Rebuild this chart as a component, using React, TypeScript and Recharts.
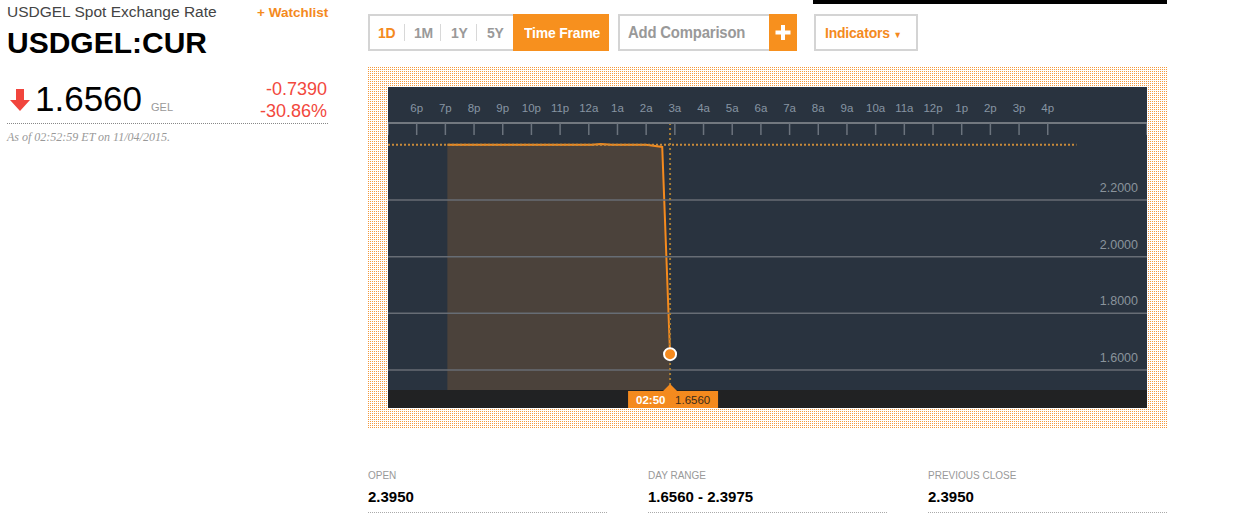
import React from 'react';
import {
  ComposedChart, Area, XAxis, YAxis, ReferenceLine, ReferenceDot,
} from 'recharts';

// hours since 5p (previous day)
const times = [2.07, 3, 4, 5, 6, 7, 7.1, 7.42, 7.8, 8, 9, 9.56, 9.833];
const rates = [2.395, 2.395, 2.395, 2.395, 2.395, 2.395, 2.395, 2.3978, 2.395, 2.395, 2.395, 2.3875, 1.656];
const hourLabels = ['', '6p', '7p', '8p', '9p', '10p', '11p', '12a', '1a', '2a', '3a', '4a', '5a', '6a', '7a', '8a', '9a', '10a', '11a', '12p', '1p', '2p', '3p', '4p'];
const xEnd = 26.46;
const yTicks = [1.6, 1.8, 2.0, 2.2];
const yDomain = [1.5294, 2.4718];
const prevClose = 2.395;
const prevCloseEnd = 24;
const lastTime = 9.833;
const lastRate = 1.656;
const lastLabel = '02:50';

const data = times.map((t, i) => ({ t, v: rates[i] }));
const xTicks = [...hourLabels.map((_, i) => i), xEnd];

const ORANGE = '#f48a1e';
const W = 759;
const H = 321;

const XTick = (props: any) => {
  const { x, payload } = props;
  const label = hourLabels[payload.value] || '';
  return (
    <g>
      <line x1={x} x2={x} y1={36} y2={48} stroke="#6b737d" strokeWidth={1.5} />
      <text x={x} y={25} textAnchor="middle" fill="#8795a3" fontSize={11.5} fontFamily="Liberation Sans, Arial, sans-serif">{label}</text>
    </g>
  );
};

const makeYLabel = (v: number) => (props: any) => {
  const vb = props.viewBox || {};
  return (
    <text x={vb.x + vb.width - 9} y={vb.y - 8} textAnchor="end" fill="#8a939c" fontSize={12.5} fontFamily="Liberation Sans, Arial, sans-serif">
      {v.toFixed(4)}
    </text>
  );
};

const CrossLabel = (props: any) => {
  const vb = props.viewBox || {};
  const x = vb.x;
  const bottom = vb.y + vb.height;
  return (
    <g>
      <polygon points={`${x - 7},${bottom + 1} ${x},${bottom - 6} ${x + 7},${bottom + 1}`} fill={ORANGE} />
      <rect x={x - 42} y={bottom + 1} width={90} height={17} fill={ORANGE} />
      <text x={x - 34} y={bottom + 14} fill="#fff" fontSize={11.5} fontWeight="bold" fontFamily="Liberation Sans, Arial, sans-serif">{lastLabel}</text>
      <text x={x + 5} y={bottom + 14} fill="#3a2a1a" fontSize={11.5} fontFamily="Liberation Sans, Arial, sans-serif">{lastRate.toFixed(4)}</text>
    </g>
  );
};

const abs = (l: number, t: number, extra: React.CSSProperties = {}): React.CSSProperties => ({
  position: 'absolute', left: l, top: t, whiteSpace: 'nowrap', ...extra,
});

const btnFont = "'Liberation Sans', Arial, sans-serif";
const btn = (color: string, size = 15): React.CSSProperties => ({
  fontFamily: btnFont, fontWeight: 'bold', fontSize: size, lineHeight: '17px', color,
  transform: 'scaleX(0.93)', transformOrigin: 'left center', letterSpacing: -0.2,
});

export default function App() {
  return (
    <div style={{ position: 'absolute', left: 0, top: 0, width: 1233, height: 515, background: '#fff', fontFamily: 'Liberation Sans, Arial, sans-serif', overflow: 'hidden' }}>
      {/* Left panel */}
      <div style={abs(7, 4, { fontSize: 15.5, lineHeight: '15px', color: '#444' })}>USDGEL Spot Exchange Rate</div>
      <div style={abs(257, 6, { fontSize: 13.5, lineHeight: '14px', color: ORANGE, fontWeight: 'bold' })}>+ Watchlist</div>
      <div style={abs(7, 28, { fontSize: 30, lineHeight: '30px', color: '#000', fontWeight: 'bold' })}>USDGEL:CUR</div>
      <svg style={abs(9, 89)} width={22} height={23}>
        <polygon points="7,0 15,0 15,11 21,11 11,22 1,11 7,11" fill="#f1453d" />
      </svg>
      <div style={abs(35, 81, { fontSize: 35, lineHeight: '35px', color: '#000' })}>1.6560</div>
      <div style={abs(151, 102, { fontSize: 11, lineHeight: '11px', color: '#999' })}>GEL</div>
      <div style={abs(200, 80, { width: 127, textAlign: 'right', fontSize: 18, lineHeight: '18px', color: '#f2483d' })}>-0.7390</div>
      <div style={abs(200, 102, { width: 127, textAlign: 'right', fontSize: 18, lineHeight: '18px', color: '#f2483d' })}>-30.86%</div>
      <div style={abs(7, 123, { width: 321, borderTop: '1px dotted #888' })} />
      <div style={abs(7, 131, { fontSize: 12, lineHeight: '12px', color: '#999', fontStyle: 'italic', fontFamily: "'Liberation Serif', 'DejaVu Serif', serif" })}>As of 02:52:59 ET on 11/04/2015.</div>

      {/* Top bar */}
      <div style={abs(813, 0, { width: 354, height: 4, background: '#000' })} />

      {/* Buttons */}
      <div style={abs(368, 14, { width: 237, height: 33, border: '2px solid #d4d4d4' })}>
        <div style={abs(8, 8, btn(ORANGE))}>1D</div>
        <div style={abs(34, 8, { width: 1, height: 17, background: '#d8d8d8' })} />
        <div style={abs(44, 8, btn('#9a9a9a'))}>1M</div>
        <div style={abs(70, 8, { width: 1, height: 17, background: '#d8d8d8' })} />
        <div style={abs(81, 8, btn('#9a9a9a'))}>1Y</div>
        <div style={abs(106, 8, { width: 1, height: 17, background: '#d8d8d8' })} />
        <div style={abs(117, 8, btn('#9a9a9a'))}>5Y</div>
        <div style={abs(143, -2, { width: 96, height: 37, background: '#f7901e' })}>
          <div style={{ position: 'absolute', left: 11, top: 10, ...btn('#fff') }}>Time Frame</div>
        </div>
      </div>
      <div style={abs(618, 14, { width: 151, height: 33, border: '2px solid #d4d4d4', borderRight: 'none' })}>
        <div style={abs(8, 8, btn('#999', 16))}>Add Comparison</div>
      </div>
      <div style={abs(769, 14, { width: 28, height: 37, background: '#f7901e' })}>
        <svg width={28} height={37}>
          <rect x={12} y={11} width={4} height={15} fill="#fff" />
          <rect x={6.5} y={16.5} width={15} height={4} fill="#fff" />
        </svg>
      </div>
      <div style={abs(814, 14, { width: 100, height: 33, border: '2px solid #d4d4d4' })}>
        <div style={abs(9, 8, btn(ORANGE))}>Indicators <span style={{ fontSize: 9 }}>▼</span></div>
      </div>

      {/* Chart frame */}
      <div style={abs(368, 67, {
        width: 799, height: 361,
        backgroundColor: '#f59a3c',
        backgroundImage: 'linear-gradient(to right, transparent 1px, #fff 1px), linear-gradient(to bottom, transparent 1px, #fff 1px)',
        backgroundSize: '2px 2px',
      })} />
      <div style={abs(388, 87, { width: W, height: 303, background: '#29333f' })} />
      <div style={abs(388, 390, { width: W, height: 18, background: '#212223' })} />
      <div style={abs(388, 87)}>
        <ComposedChart width={W} height={H} data={data} margin={{ top: 0, right: 0, bottom: 18, left: 0 }}>
          <XAxis
            dataKey="t" type="number" orientation="top" domain={[0, xEnd]} ticks={xTicks}
            height={36} allowDataOverflow interval={0}
            axisLine={{ stroke: '#72787f', strokeWidth: 2 }} tickLine={false} tick={<XTick />}
          />
          <YAxis type="number" hide domain={yDomain} allowDataOverflow />
          {yTicks.map((v) => (
            <ReferenceLine key={v} y={v} stroke="#676d75" strokeWidth={1.5} label={makeYLabel(v)} />
          ))}
          <Area
            type="linear" dataKey="v" stroke={ORANGE} strokeWidth={2} fill="#5a483b" fillOpacity={0.7}
            isAnimationActive={false} dot={false} activeDot={false}
          />
          <ReferenceLine
            segment={[{ x: 0, y: prevClose }, { x: prevCloseEnd, y: prevClose }]}
            stroke="#c88a3a" strokeWidth={2} strokeDasharray="2 2"
          />
          <ReferenceLine x={lastTime} stroke="#a67c34" strokeWidth={2} strokeDasharray="2 3" label={<CrossLabel />} />
          <ReferenceDot x={lastTime} y={lastRate} r={6} fill={ORANGE} stroke="#fff" strokeWidth={2} />
        </ComposedChart>
      </div>

      {/* Stats */}
      <div style={abs(368, 471, { fontSize: 10, lineHeight: '10px', color: '#999' })}>OPEN</div>
      <div style={abs(368, 489, { fontSize: 15, lineHeight: '15px', color: '#000', fontWeight: 'bold' })}>2.3950</div>
      <div style={abs(368, 512, { width: 239, borderTop: '1px dotted #aaa' })} />
      <div style={abs(648, 471, { fontSize: 10, lineHeight: '10px', color: '#999' })}>DAY RANGE</div>
      <div style={abs(648, 489, { fontSize: 15, lineHeight: '15px', color: '#000', fontWeight: 'bold' })}>1.6560 - 2.3975</div>
      <div style={abs(648, 512, { width: 239, borderTop: '1px dotted #aaa' })} />
      <div style={abs(928, 471, { fontSize: 10, lineHeight: '10px', color: '#999' })}>PREVIOUS CLOSE</div>
      <div style={abs(928, 489, { fontSize: 15, lineHeight: '15px', color: '#000', fontWeight: 'bold' })}>2.3950</div>
      <div style={abs(928, 512, { width: 239, borderTop: '1px dotted #aaa' })} />
    </div>
  );
}
